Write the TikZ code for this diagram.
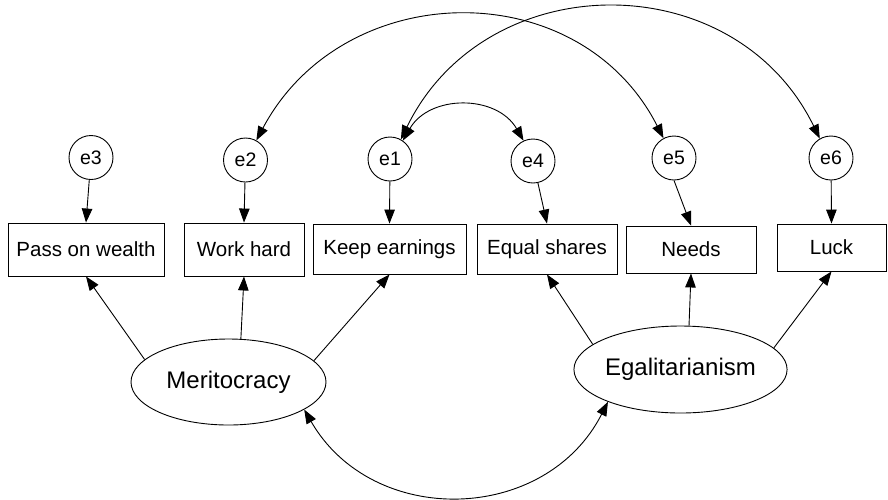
\documentclass[tikz,border=0pt]{standalone}
\usepackage{fontspec}
\setmainfont{Liberation Sans}
\usetikzlibrary{arrows.meta,shapes.geometric}
\begin{document}
\begin{tikzpicture}[x=1pt,y=-1pt,
  line width=0.9pt,
  tip/.style={-{Triangle[length=14pt,width=10.5pt]}},
  bitip/.style={{Triangle[length=14pt,width=10.5pt]}-{Triangle[length=14pt,width=10.5pt]}},
  obs/.style={draw, rectangle, inner sep=0pt, font=\fontsize{20.5}{24}\selectfont},
  err/.style={draw, circle, inner sep=0pt, minimum size=44pt, font=\fontsize{19.5}{23}\selectfont},
  lat/.style={draw, ellipse, inner sep=0pt, minimum width=195pt, minimum height=86pt, font=\fontsize{24}{28}\selectfont},
]
\useasboundingbox (0,0) rectangle (888,499);

% observed indicators
\node[obs, minimum width=156pt, minimum height=53pt] (pass)  at (86,249.5)   {Pass on wealth};
\node[obs, minimum width=120pt, minimum height=53pt] (work)  at (244,249.5)  {Work hard};
\node[obs, minimum width=153pt, minimum height=50pt] (keep)  at (389.5,249)  {Keep earnings};
\node[obs, minimum width=140pt, minimum height=50pt] (equal) at (547,249)    {Equal shares};
\node[obs, minimum width=130pt, minimum height=47pt] (needs) at (691,249.5)  {Needs};
\node[obs, minimum width=109pt, minimum height=47pt] (luck)  at (831.5,247.5){Luck};

% error terms
\node[err] (e3) at (91,157.5) {e3};
\node[err] (e2) at (245.5,160) {e2};
\node[err] (e1) at (390,159) {e1};
\node[err] (e4) at (533,161) {e4};
\node[err] (e5) at (674,158) {e5};
\node[err] (e6) at (831,158) {e6};

% latent factors
\node[lat] (merit) at (228.5,382) {Meritocracy};
\node[lat, minimum height=87pt] (egal) at (680.5,369.5) {Egalitarianism};

% error paths
\draw[tip] (e3) -- (pass.north);
\draw[tip] (e2) -- (work.north);
\draw[tip] (e1) -- (keep.north);
\draw[tip] (e4) -- (equal.north);
\draw[tip] (e5.south) -- (needs.north);
\draw[tip] (e6) -- (luck.north);

% factor loadings
\draw[tip] (merit.165) -- (pass.south);
\draw[tip] (merit.74) -- (work.south);
\draw[tip] (merit.14) -- (keep.south);
\draw[tip] (egal.164) -- (equal.south);
\draw[tip] (egal.79) -- (needs.south);
\draw[tip] (egal.13) -- (luck.south);

% error covariances
\draw[bitip] (e2.61) to[out=62,in=117,looseness=1.165] (e5.118);
\draw[bitip] (e1.61) to[out=64,in=116,looseness=1.184] (e6.120);
\draw[bitip] (e1.55) to[out=60,in=120,looseness=1.137] (e4.115);

% factor covariance
\draw[bitip] (merit.-20) to[out=-60,in=-117,looseness=1.153] (egal.204);
\end{tikzpicture}
\end{document}
